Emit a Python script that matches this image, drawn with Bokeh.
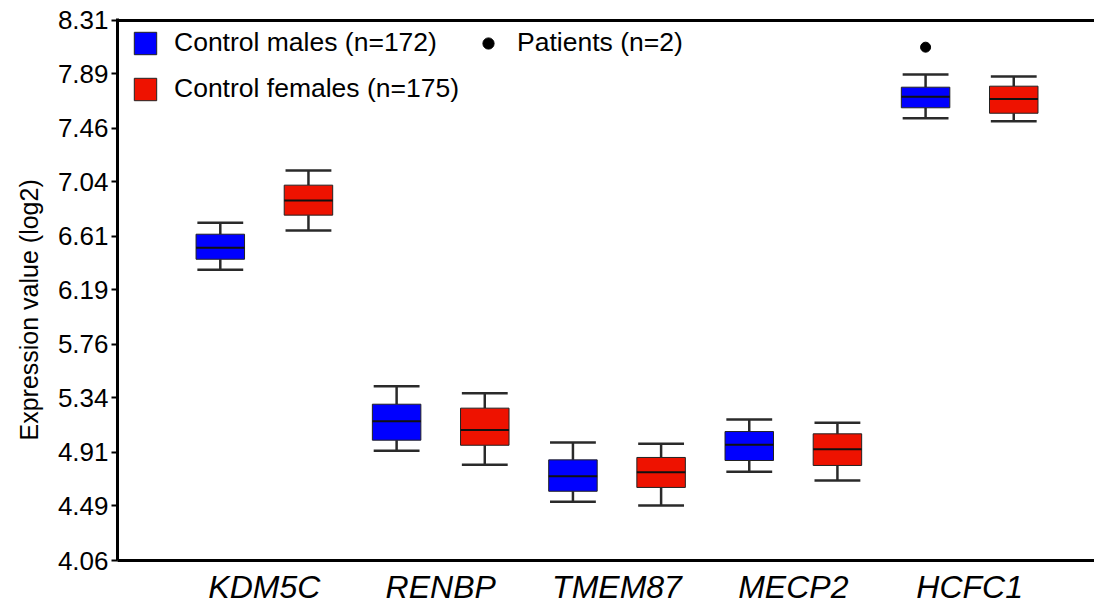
from bokeh.plotting import figure
from bokeh.models import (Range1d, FixedTicker, Span, Legend, LegendItem,
                          ColumnDataSource, Title)
from bokeh.embed import file_html
from bokeh.resources import INLINE

genes = ["KDM5C", "RENBP", "TMEM87", "MECP2", "HCFC1"]
y_ticks = [4.06, 4.49, 4.91, 5.34, 5.76, 6.19, 6.61, 7.04, 7.46, 7.89, 8.31]

# Control males (n=172)
male_low = [6.348, 4.923, 4.522, 4.758, 7.541]
male_q1 = [6.431, 5.007, 4.605, 4.847, 7.623]
male_med = [6.521, 5.156, 4.724, 4.971, 7.710]
male_q3 = [6.628, 5.290, 4.852, 5.075, 7.785]
male_high = [6.718, 5.432, 4.989, 5.170, 7.885]

# Control females (n=175)
fem_low = [6.657, 4.813, 4.493, 4.690, 7.517]
fem_q1 = [6.778, 4.967, 4.635, 4.808, 7.580]
fem_med = [6.893, 5.088, 4.755, 4.936, 7.693]
fem_q3 = [7.014, 5.259, 4.871, 5.057, 7.793]
fem_high = [7.129, 5.377, 4.978, 5.144, 7.869]

# Patients (n=2)
patient_gene = ["HCFC1"]
patient_value = [8.100]

MALE_COLOR = "#0000FF"
FEMALE_COLOR = "#EE1200"
FONT = "Liberation Sans"

offset = 0.25
box_w = 0.275
cap_w = 0.26

p = figure(width=1094, height=608, output_backend="svg", toolbar_location=None,
           x_range=Range1d(0.167, 5.708), y_range=Range1d(4.06, 8.3257),
           min_border_left=116, min_border_right=0, min_border_top=18,
           min_border_bottom=48)
p.outline_line_color = None
p.grid.visible = False
p.background_fill_color = "white"
p.border_fill_color = "white"


def draw(low, q1, med, q3, high, shift, color):
    xs = [i + 1 + shift for i in range(len(genes))]
    src = ColumnDataSource(dict(x=xs, low=low, q1=q1, med=med, q3=q3, high=high,
                                xl=[x - cap_w / 2 for x in xs],
                                xr=[x + cap_w / 2 for x in xs],
                                bl=[x - box_w / 2 for x in xs],
                                br=[x + box_w / 2 for x in xs]))
    p.segment("x", "q3", "x", "high", source=src, line_color="#2a2a2a", line_width=2.5)
    p.segment("x", "low", "x", "q1", source=src, line_color="#2a2a2a", line_width=2.5)
    p.segment("xl", "high", "xr", "high", source=src, line_color="#2a2a2a", line_width=2.5)
    p.segment("xl", "low", "xr", "low", source=src, line_color="#2a2a2a", line_width=2.5)
    r = p.vbar(x="x", width=box_w, top="q3", bottom="q1", source=src,
               fill_color=color, line_color="#222222", line_width=1)
    p.segment("bl", "med", "br", "med", source=src, line_color="#111111", line_width=2)
    return r


r_m = draw(male_low, male_q1, male_med, male_q3, male_high, -offset, MALE_COLOR)
r_f = draw(fem_low, fem_q1, fem_med, fem_q3, fem_high, offset, FEMALE_COLOR)

px = [genes.index(g) + 1 - offset for g in patient_gene]
r_p = p.scatter(px, patient_value, size=10, color="black")

top_line = Span(location=8.31, dimension="width", line_color="black", line_width=3)
p.add_layout(top_line)

# axes
p.yaxis.ticker = FixedTicker(ticks=y_ticks)
p.yaxis.major_label_overrides = {t: f"{t:.2f}" for t in y_ticks}
p.yaxis.major_label_text_font = FONT
p.yaxis.major_label_text_font_size = "26px"
p.yaxis.major_label_text_color = "black"
p.yaxis.major_label_standoff = 3
p.yaxis.axis_line_width = 3
p.yaxis.axis_line_color = "black"
p.yaxis.major_tick_line_width = 2
p.yaxis.major_tick_out = 6
p.yaxis.major_tick_in = 0
p.yaxis.minor_tick_line_color = None

ylabel = Title(text="Expression value (log2)", align="left", offset=120,
               text_font=FONT, text_font_size="25px", text_font_style="normal",
               text_color="black", standoff=24)
p.add_layout(ylabel, "left")

p.xaxis.ticker = FixedTicker(ticks=[1, 2, 3, 4, 5])
p.xaxis.major_label_overrides = {i + 1: g for i, g in enumerate(genes)}
p.xaxis.major_label_text_font = FONT
p.xaxis.major_label_text_font_style = "italic"
p.xaxis.major_label_text_font_size = "32px"
p.xaxis.major_label_text_color = "black"
p.xaxis.major_label_standoff = 8
p.xaxis.axis_line_width = 3
p.xaxis.axis_line_color = "black"
p.xaxis.major_tick_line_color = None
p.xaxis.major_tick_out = 0
p.xaxis.major_tick_in = 0
p.xaxis.minor_tick_line_color = None

legend = Legend(items=[
    LegendItem(label="Control males (n=172)", renderers=[r_m], index=0),
    LegendItem(label="Control females (n=175)", renderers=[r_f], index=0),
    LegendItem(label="Patients (n=2)", renderers=[r_p]),
], location=(14, 456), nrows=2, glyph_width=28, glyph_height=28,
    label_standoff=15, spacing=15, padding=0, margin=0,
    label_text_font=FONT, label_text_font_size="26.5px", label_text_color="black",
    border_line_color=None, background_fill_alpha=0)
p.add_layout(legend)

open("out.html", "w").write(file_html(p, INLINE))
